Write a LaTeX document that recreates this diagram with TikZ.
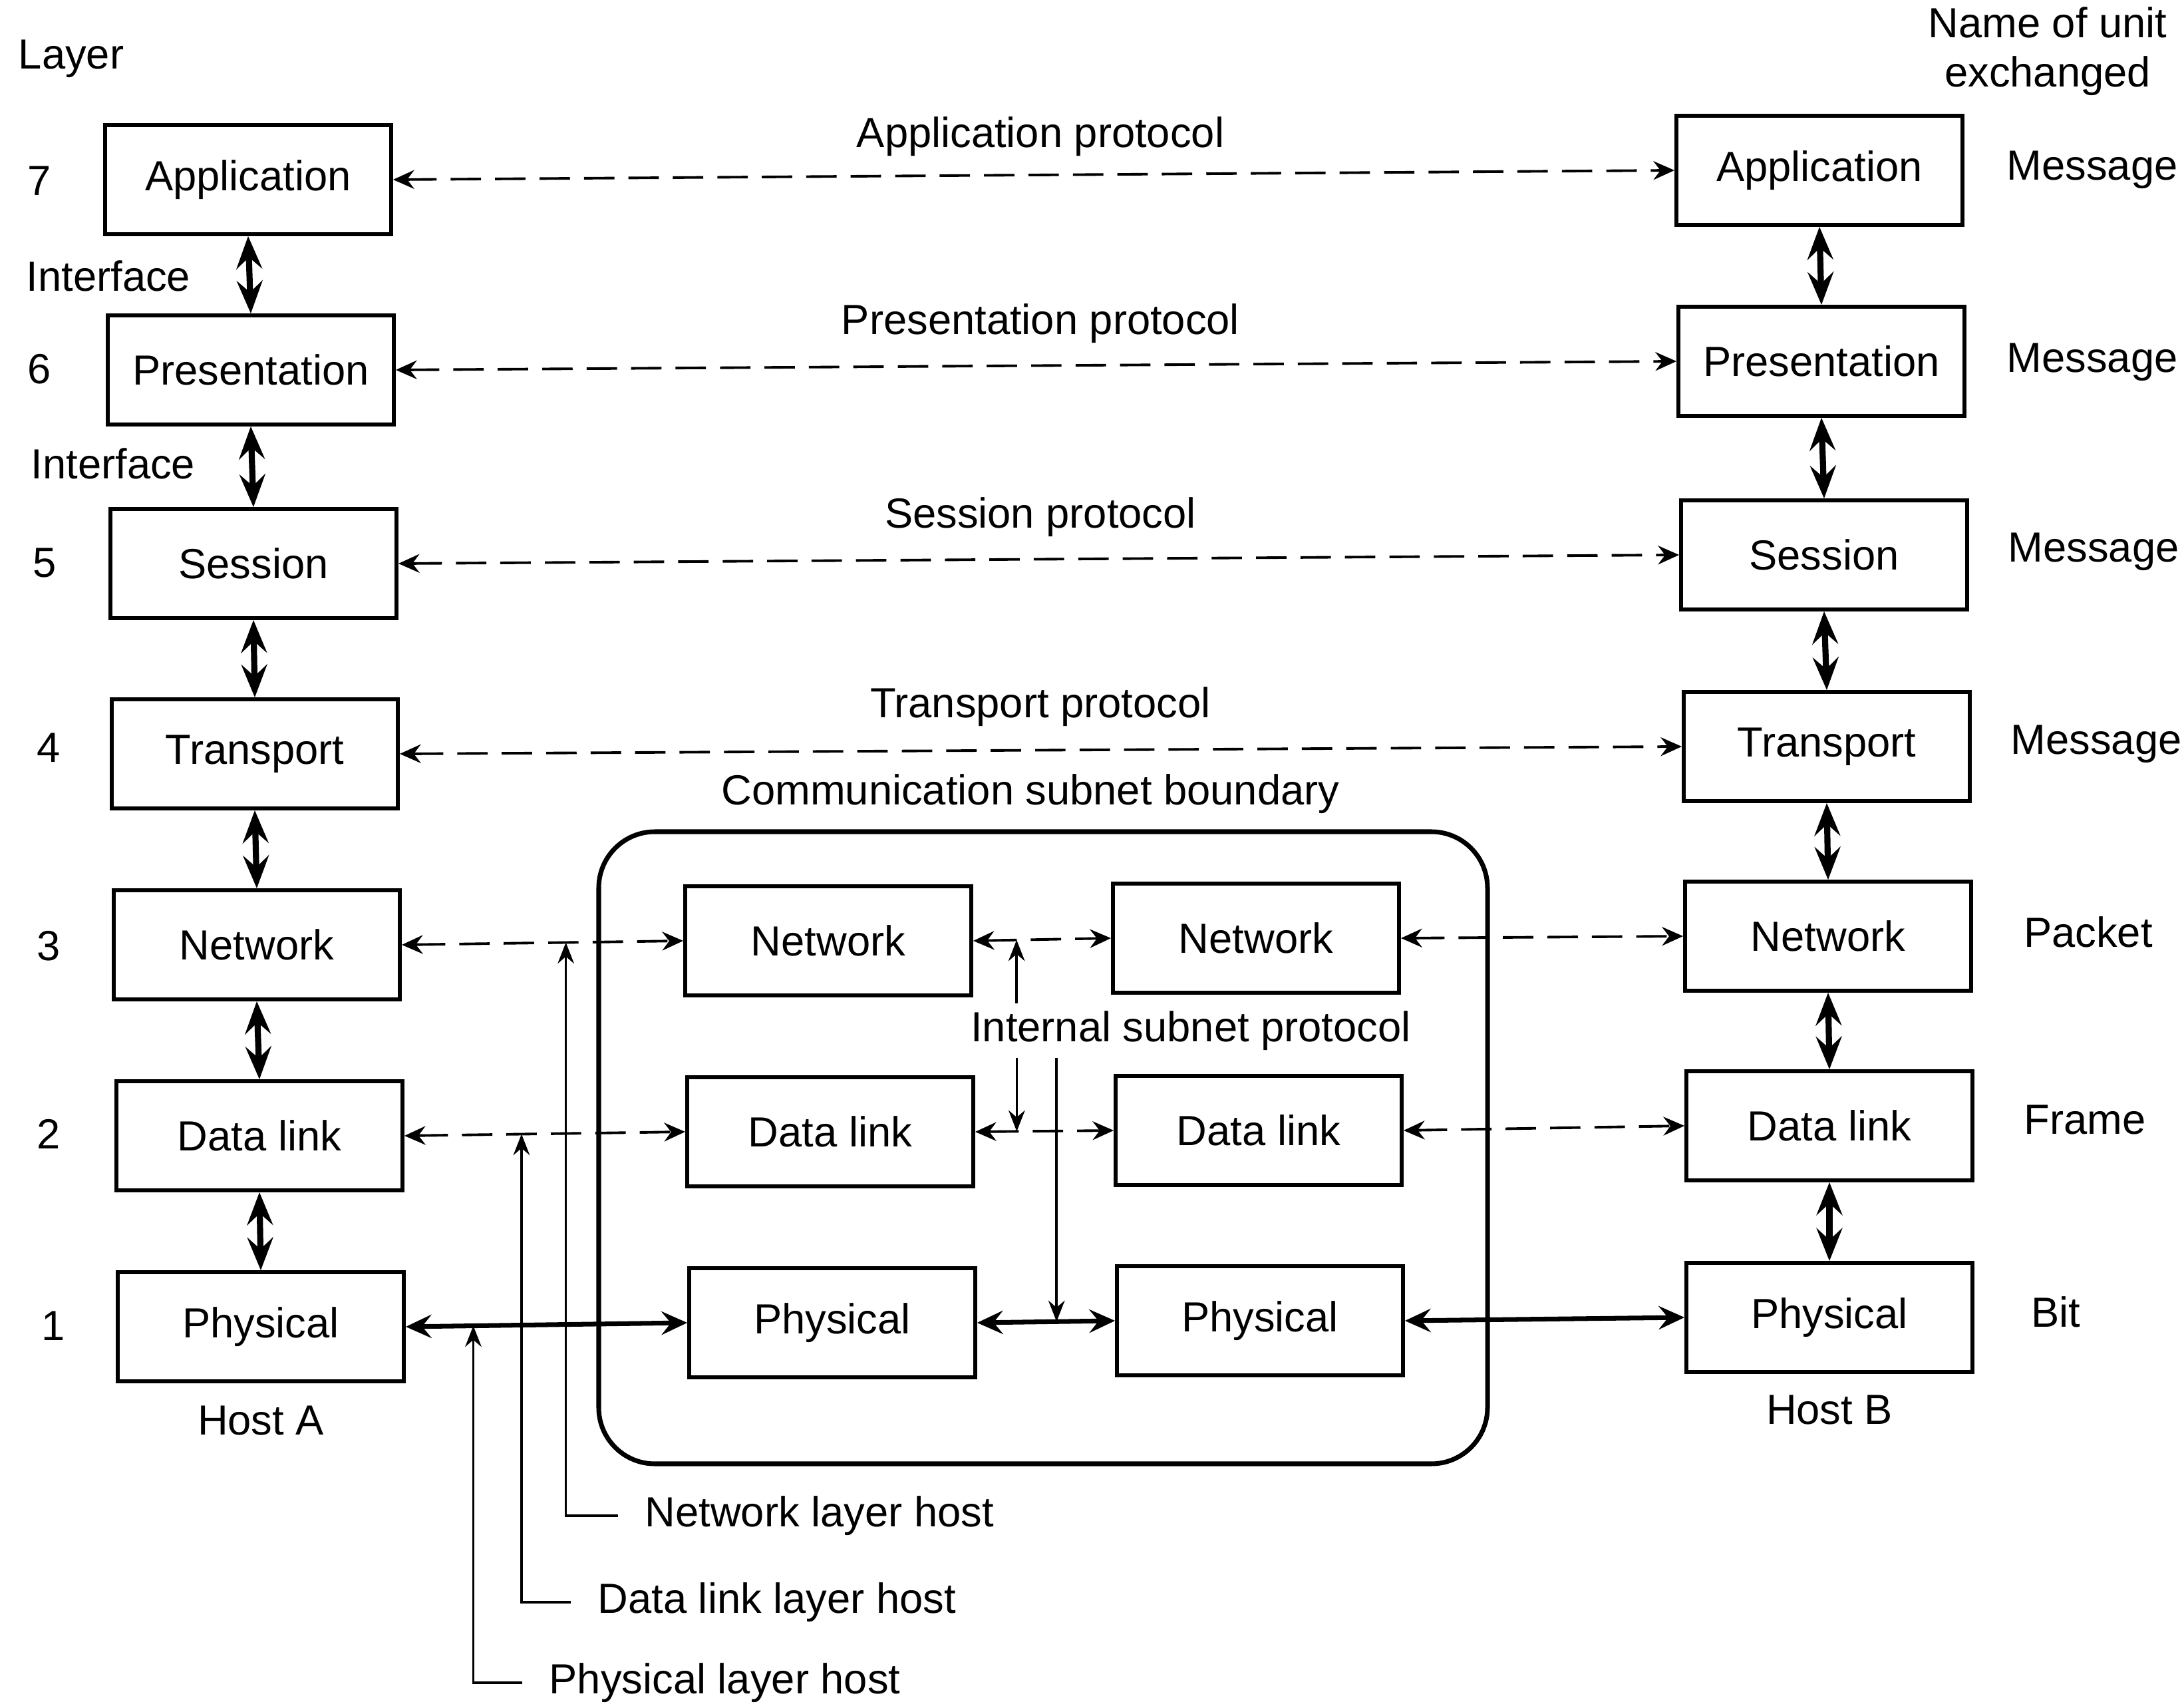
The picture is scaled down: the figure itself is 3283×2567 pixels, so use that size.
\documentclass[tikz,border=0pt]{standalone}
\usepackage{fontspec}
\setmainfont{Liberation Sans}
\usetikzlibrary{arrows.meta,positioning,calc}

\tikzset{
  lay/.style={draw, line width=1.6pt, minimum width=4.3cm, minimum height=1.64cm, inner sep=0pt},
  peer/.style={line width=1.1pt, dash pattern=on 13pt off 6pt,
    {Stealth[length=9pt,width=8pt,inset=3pt]}-{Stealth[length=9pt,width=8pt,inset=3pt]}},
  wire/.style={line width=2pt,
    {Stealth[length=11pt,width=10pt,inset=4pt]}-{Stealth[length=11pt,width=10pt,inset=4pt]}},
  iface/.style={line width=2.6pt,
    {Stealth[length=14pt,width=11pt,inset=5pt]}-{Stealth[length=14pt,width=11pt,inset=5pt]}},
  tap/.style={line width=1pt, -{Stealth[length=9pt,width=7pt,inset=3pt]}},
  hostlbl/.style={anchor=west, inner xsep=0.4cm, inner ysep=2pt},
}

\begin{document}
\begin{tikzpicture}[x=0.01cm,y=-0.01cm,every node/.style={font=\fontsize{18}{21}\selectfont}]
	\useasboundingbox (0,0) rectangle (3283,2567);
	%% host A
	\node[lay] (A7) at (373,270)  {Application};
	\node[lay] (A6) at (377,556)  {Presentation};
	\node[lay] (A5) at (381,847)  {Session};
	\node[lay] (A4) at (383,1133) {Transport};
	\node[lay] (A3) at (386,1420) {Network};
	\node[lay] (A2) at (390,1707) {Data link};
	\node[lay] (A1) at (392,1994) {Physical};
	\node[below=0.22cm of A1] (hostA) {Host A};
	%% host B
	\node[lay] (B7) at (2735,256)  {Application};
	\node[lay] (B6) at (2738,543)  {Presentation};
	\node[lay] (B5) at (2742,834)  {Session};
	\node[lay] (B4) at (2746,1122) {Transport};
	\node[lay] (B3) at (2748,1407) {Network};
	\node[lay] (B2) at (2750,1692) {Data link};
	\node[lay] (B1) at (2750,1980) {Physical};
	\node[below=0.2cm of B1] (hostB) {Host B};
	%% subnet
	\node[lay] (N1) at (1245,1414) {Network};
	\node[lay] (N2) at (1888,1410) {Network};
	\node[lay] (D1) at (1248,1701) {Data link};
	\node[lay] (D2) at (1892,1699) {Data link};
	\node[lay] (P1) at (1251,1988) {Physical};
	\node[lay] (P2) at (1894,1985) {Physical};
	\draw[line width=2pt, rounded corners=24pt] (900,1250) rectangle (2236,2200);
	\node (sub) at (1549,1193) {Communication subnet boundary};
	\node[inner sep=3pt] (isp) at (1790,1549) {Internal subnet protocol};

	% layer numbers and units
	\node (lay) at (107,88) {Layer};
	\node (n7) at (59,272) {7};
	\node (n6) at (59,555) {6};
	\node (n5) at (67,846) {5};
	\node (n4) at (73,1124) {4};
	\node (n3) at (73,1422) {3};
	\node (n2) at (73,1704) {2};
	\node (n1) at (80,1993) {1};
	\node (if1) at (163,415) {Interface};
	\node (if2) at (170,697) {Interface};
	\node[align=center] (unit) at (3078,77) {Name of unit\\exchanged};
	\node (u7) at (3145,255) {Message};
	\node (u6) at (3145,544) {Message};
	\node (u5) at (3147,829) {Message};
	\node (u4) at (3151,1118) {Message};
	\node (u3) at (3139,1401) {Packet};
	\node (u2) at (3134,1683) {Frame};
	\node (u1) at (3090,1972) {Bit};

	% protocols
	\node (p7) at (1564,205) {Application protocol};
	\node (p6) at (1564,486) {Presentation protocol};
	\node (p5) at (1564,777) {Session protocol};
	\node (p4) at (1564,1062) {Transport protocol};
	\draw[peer] (A7.east) -- (B7.west);
	\draw[peer] (A6.east) -- (B6.west);
	\draw[peer] (A5.east) -- (B5.west);
	\draw[peer] (A4.east) -- (B4.west);
	\draw[peer] (A3.east) -- (N1.west);
	\draw[peer] (N1.east) -- (N2.west);
	\draw[peer] (N2.east) -- (B3.west);
	\draw[peer] (A2.east) -- (D1.west);
	\draw[peer] (D1.east) -- (D2.west);
	\draw[peer] (D2.east) -- (B2.west);
	\draw[wire] (A1.east) -- (P1.west);
	\draw[wire] (P1.east) -- (P2.west);
	\draw[wire] (P2.east) -- (B1.west);

	% interfaces
	\draw[iface] (A7.south) -- (A6.north);
	\draw[iface] (A6.south) -- (A5.north);
	\draw[iface] (A5.south) -- (A4.north);
	\draw[iface] (A4.south) -- (A3.north);
	\draw[iface] (A3.south) -- (A2.north);
	\draw[iface] (A2.south) -- (A1.north);
	\draw[iface] (B7.south) -- (B6.north);
	\draw[iface] (B6.south) -- (B5.north);
	\draw[iface] (B5.south) -- (B4.north);
	\draw[iface] (B4.south) -- (B3.north);
	\draw[iface] (B3.south) -- (B2.north);
	\draw[iface] (B2.south) -- (B1.north);

	% internal subnet protocol
	\coordinate (i1) at ($(N1.east)!0.315!(N2.west)$);
	\coordinate (i2) at ($(D1.east)!0.30!(D2.west)$);
	\coordinate (i3) at ($(P1.east)!0.576!(P2.west)$);
	\draw[tap] (isp.north -| i1) -- (i1);
	\draw[tap] (isp.south -| i2) -- (i2);
	\draw[tap] (isp.south -| i3) -- (i3);

	% layer hosts
	\coordinate (t3) at ($(A3.east)!0.583!(N1.west)$);
	\coordinate (t2) at ($(A2.east)!0.417!(D1.west)$);
	\coordinate (t1) at ($(A1.east)!0.24!(P1.west)$);
	\node[hostlbl] (h3) at (929,2278) {Network layer host};
	\node[hostlbl] (h2) at (858,2408) {Data link layer host};
	\node[hostlbl] (h1) at (785,2529) {Physical layer host};
	\draw[tap] (h3.west) -| (t3);
	\draw[tap] (h2.west) -| (t2);
	\draw[tap] (h1.west) -| (t1);
\end{tikzpicture}
\end{document}
